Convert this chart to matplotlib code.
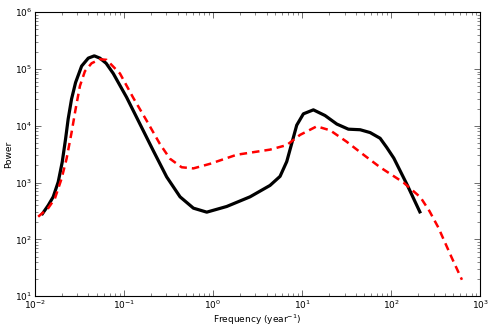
import matplotlib
matplotlib.use("Agg")
import matplotlib.pyplot as plt
from matplotlib.ticker import LogLocator

# black solid curve
freq_black = [0.01189, 0.01413, 0.01607, 0.01828, 0.02028, 0.02213, 0.02366,
              0.02582, 0.02864, 0.0335, 0.0398, 0.04645, 0.0537, 0.0631,
              0.0759, 0.1072, 0.1514, 0.2138, 0.302, 0.4266, 0.6026, 0.851,
              1.426, 2.606, 4.365, 5.662, 6.73, 7.66, 8.71, 10.35, 13.4,
              18.11, 24.55, 33.1, 44.9, 58.1, 75.2, 89.1, 107.2, 151.4, 213.8]
power_black = [269, 398, 562, 1023, 2291, 5888, 13183,
               29512, 57544, 112202, 154882, 169824, 154882, 125893,
               83176, 31623, 10715, 3631, 1259, 562, 355, 302,
               380, 562, 891, 1288, 2344, 4898, 10233, 16218, 19055,
               15136, 10715, 8710, 8511, 7586, 6026, 4169, 2692, 912, 288]

# red dashed curve
freq_red = [0.01089, 0.01413, 0.01679, 0.01995, 0.0227, 0.02582, 0.02864,
            0.03206, 0.03648, 0.04335, 0.0537, 0.06397, 0.0902, 0.1274,
            0.1799, 0.2535, 0.3289, 0.4446, 0.6026, 0.9247, 1.845, 4.365,
            6.73, 9.506, 14.62, 20.65, 31.62, 48.98, 75.16, 138.0, 213.8,
            269.0, 338.8, 478.6, 623.7]
power_red = [251, 355, 525, 1175, 2630, 7586, 19498,
             50119, 91201, 125893, 147911, 144544, 83176, 30903,
             12303, 4786, 2630, 1862, 1778, 2138, 3090, 3802,
             4571, 6918, 9772, 8318, 5248, 3090, 1862, 1000, 550,
             316, 162, 47.9, 19.5]

fig = plt.figure(figsize=(4.91, 3.27), dpi=100)
ax = fig.add_axes([0.071, 0.094, 0.907, 0.869])

ax.plot(freq_black, power_black, color="black", linewidth=2.3,
        solid_joinstyle="round", solid_capstyle="butt")
ax.plot(freq_red, power_red, color="red", linewidth=1.8,
        linestyle=(0, (3, 2)))

ax.set_xscale("log")
ax.set_yscale("log")
ax.set_xlim(1e-2, 1e3)
ax.set_ylim(1e1, 1e6)

ax.xaxis.set_major_locator(LogLocator(base=10, numticks=10))
ax.yaxis.set_major_locator(LogLocator(base=10, numticks=10))
ax.xaxis.set_minor_locator(LogLocator(base=10, subs=range(2, 10), numticks=20))
ax.yaxis.set_minor_locator(LogLocator(base=10, subs=range(2, 10), numticks=20))

ax.tick_params(which="both", direction="in", top=True, right=True,
               labelsize=6.5, color="#555555", pad=2)
ax.tick_params(which="major", length=4, width=0.6)
ax.tick_params(which="minor", length=2, width=0.5)
for s in ax.spines.values():
    s.set_linewidth(0.8)

ax.set_xlabel("Frequency (year$^{-1}$)", fontsize=6.5, labelpad=1)
ax.set_ylabel("Power", fontsize=6.5, labelpad=1)

fig.savefig("out.png", dpi=100)
